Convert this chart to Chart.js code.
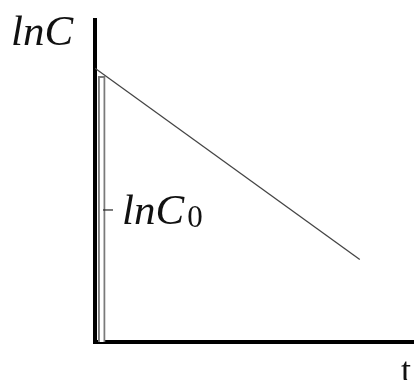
<!DOCTYPE html>
<html>
<head>
<meta charset="utf-8">
<script src="https://cdn.jsdelivr.net/npm/chart.js@4"></script>
<style>
    html, body { margin: 0; padding: 0; background: #fff; }
    #wrap { width: 414px; height: 380px; }
</style>
</head>
<body>
<div id="wrap"><canvas id="graphique" width="414" height="380"></canvas></div>
<script>
// droite ln C = f(t)
const tValues = [0, 8.3];
const lnCValues = [8.5, 2.56];

// barre creuse près de l'axe
const barT = [0.21];
const barLnC = [8.25];

// graduation lnC0 et titres d'axes
const lnC0Value = 4.1;
const lnC0Label = ['lnC', '0'];
const yTitle = 'lnC';
const xTitle = 't';

/**
 * Dessine les titres d'axes et la graduation lnC0 à partir des échelles
 */
const textesPlugin = {
    id: 'textes',
    afterDraw(chart) {
        const ctx = chart.ctx;
        const area = chart.chartArea;
        const y = chart.scales.y;
        ctx.save();
        ctx.fillStyle = '#111';
        ctx.textBaseline = 'alphabetic';

        // titre axe y
        ctx.font = 'italic 43px "Liberation Serif"';
        ctx.textAlign = 'left';
        ctx.fillText(yTitle, area.left - 84, 45);

        // titre axe x
        ctx.font = '36px "Liberation Serif"';
        ctx.fillText(xTitle, area.right - 13, area.bottom + 40);

        // graduation lnC0
        const py = y.getPixelForValue(lnC0Value);
        ctx.strokeStyle = '#222';
        ctx.lineWidth = 1.2;
        ctx.beginPath();
        ctx.moveTo(area.left + 8, py);
        ctx.lineTo(area.left + 18, py);
        ctx.stroke();

        ctx.font = 'italic 43px "Liberation Serif"';
        ctx.fillText(lnC0Label[0], area.left + 27, py + 14);
        const w = ctx.measureText(lnC0Label[0]).width;
        ctx.font = '31px "Liberation Serif"';
        ctx.fillText(lnC0Label[1], area.left + 30 + w, py + 17);
        ctx.restore();
    }
};

const ctx = document.getElementById('graphique').getContext('2d');
new Chart(ctx, {
    type: 'line',
    data: {
        datasets: [
            {
                type: 'line',
                data: tValues.map((t, i) => ({x: t, y: lnCValues[i]})),
                borderColor: '#444',
                borderWidth: 1.3,
                pointRadius: 0,
                fill: false
            },
            {
                type: 'bar',
                data: barT.map((t, i) => ({x: t, y: barLnC[i]})),
                backgroundColor: '#fff',
                borderColor: '#7a7a7a',
                borderWidth: 2,
                barThickness: 7,
                borderSkipped: 'bottom'
            }
        ]
    },
    options: {
        responsive: false,
        animation: false,
        layout: {
            padding: {left: 95, top: 20, bottom: 38, right: 0}
        },
        scales: {
            x: {
                type: 'linear',
                min: 0,
                max: 10,
                offset: false,
                ticks: {display: false},
                grid: {display: false, drawTicks: false},
                border: {display: true, color: '#000', width: 4}
            },
            y: {
                type: 'linear',
                min: 0,
                max: 10,
                ticks: {display: false},
                grid: {display: false, drawTicks: false},
                border: {display: true, color: '#000', width: 4}
            }
        },
        plugins: {
            legend: {display: false},
            tooltip: {enabled: false}
        }
    },
    plugins: [textesPlugin]
});
</script>
</body>
</html>
